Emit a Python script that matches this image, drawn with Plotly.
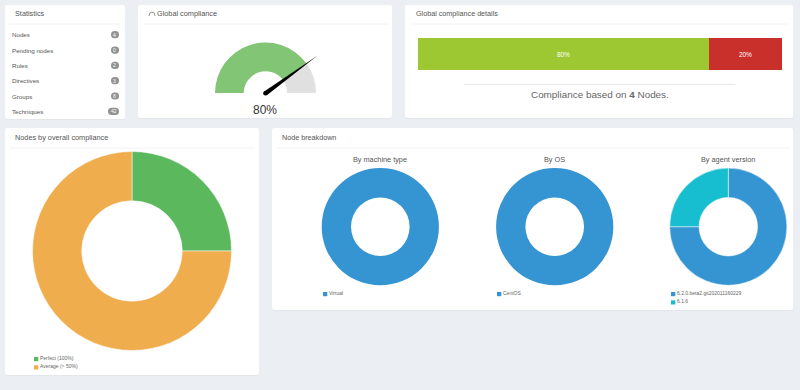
import math
import plotly.graph_objects as go

W, H = 800, 390
FONT = "Liberation Sans"

stat_labels = ["Nodes", "Pending nodes", "Rules", "Directives", "Groups", "Techniques"]
stat_values = ["4", "0", "2", "3", "8", "42"]
gauge_value = 80
detail_labels = ["80%", "20%"]
detail_values = [80, 20]
overall_labels = ["Perfect (100%)", "Average (> 50%)"]
overall_values = [1, 3]
machine_labels = ["Virtual"]
machine_values = [4]
os_labels = ["CentOS"]
os_values = [4]
agent_labels = ["6.2.0.beta2.git202011160229", "6.1.6"]
agent_values = [3, 1]

BG = "#ebeef3"
GREEN = "#5cb85c"
ORANGE = "#f0ad4e"
BLUE = "#3594d2"
CYAN = "#17becf"


def px(x):
    return x / W


def py(y):
    return 1 - y / H


fig = go.Figure()
shapes = []
ann = []


def text(x, y, s, size=7, color="#555555", anchor="left"):
    ann.append(dict(x=px(x), y=py(y), xref="paper", yref="paper", text=s, showarrow=False,
                    xanchor=anchor, yanchor="middle", borderpad=0, borderwidth=0,
                    font=dict(family=FONT, size=size, color=color)))


def rrect(x0, y0, x1, y1, r, fill):
    path = (f"M{px(x0 + r)},{py(y0)} L{px(x1 - r)},{py(y0)} Q{px(x1)},{py(y0)} {px(x1)},{py(y0 + r)} "
            f"L{px(x1)},{py(y1 - r)} Q{px(x1)},{py(y1)} {px(x1 - r)},{py(y1)} "
            f"L{px(x0 + r)},{py(y1)} Q{px(x0)},{py(y1)} {px(x0)},{py(y1 - r)} "
            f"L{px(x0)},{py(y0 + r)} Q{px(x0)},{py(y0)} {px(x0 + r)},{py(y0)} Z")
    shapes.append(dict(type="path", path=path, xref="paper", yref="paper", fillcolor=fill,
                       line=dict(width=0), layer="below"))


def hline(x0, x1, y, color="#f1f2f4"):
    shapes.append(dict(type="line", xref="paper", yref="paper", x0=px(x0), x1=px(x1), y0=py(y), y1=py(y),
                       line=dict(color=color, width=1), layer="below"))


panels = [(5, 5, 125, 119), (138, 5, 392, 118), (405, 5, 793, 118), (5, 128, 259, 375), (272, 128, 793, 310)]
for p in panels:
    rrect(p[0], p[1], p[2], p[3] + 1, 2, "#e3e6ea")
    rrect(*p, 2, "#ffffff")

hline(9, 121, 24)
hline(143, 388, 24)
hline(410, 790, 24)
hline(10, 255, 148)
hline(277, 790, 148)
hline(464, 735.5, 84.3, "#e6e8ea")

text(15, 14, "Statistics", 7.3)
text(157, 14, "Global compliance", 7.3)
text(416, 14, "Global compliance details", 7.2)
text(15, 137, "Nodes by overall compliance", 7.3)
text(282, 137, "Node breakdown", 7.2)

# statistics list
for i, (lab, val) in enumerate(zip(stat_labels, stat_values)):
    y = 34.7 + i * 15.33
    text(12, y, lab, 6.2)
    half = 4 if len(val) == 1 else 5.5
    cx = 115 if len(val) == 1 else 113.5
    rrect(cx - half, y - 3.6, cx + half, y + 3.6, 3.5, "#929292")
    text(cx, y, val, 5, "#ffffff", "center")

# gauge
gx, gy, gr = 265.5, 93, 50.5
fig.add_trace(go.Pie(values=[gauge_value, 100 - gauge_value, 100], hole=0.43, rotation=270, sort=False,
                     direction="clockwise", textinfo="none", hoverinfo="skip", showlegend=False,
                     marker=dict(colors=["#82c574", "#e0e0e0", "rgba(0,0,0,0)"], line=dict(width=0)),
                     domain=dict(x=[px(gx - gr), px(gx + gr)], y=[py(gy + gr), py(gy - gr)])))
ang = math.pi * (1 - gauge_value / 100)
ux, uy = math.cos(ang), -math.sin(ang)
nx, ny = -uy, ux
hx, hy = gx, gy + 0.3
tipx, tipy = hx + 64 * ux, hy + 64 * uy
b = [(hx + 2.3 * nx, hy + 2.3 * ny), (hx - 2.3 * nx, hy - 2.3 * ny)]
shapes.append(dict(type="path", xref="paper", yref="paper", fillcolor="#000000", line=dict(width=0),
                   path=f"M{px(b[0][0])},{py(b[0][1])} L{px(tipx)},{py(tipy)} L{px(b[1][0])},{py(b[1][1])} Z",
                   layer="above"))
shapes.append(dict(type="circle", xref="paper", yref="paper", fillcolor="#000000", line=dict(width=0),
                   x0=px(hx - 2.3), x1=px(hx + 2.3), y0=py(hy + 2.3), y1=py(hy - 2.3), layer="above"))
text(265, 110, f"{gauge_value}%", 12, "#333333", "center")

# gauge icon
shapes.append(dict(type="path", xref="paper", yref="paper", line=dict(color="#777777", width=0.8),
                   path=f"M{px(149)},{py(16)} Q{px(149)},{py(12)} {px(152)},{py(12)} Q{px(155)},{py(12)} {px(155)},{py(16)}"))

# compliance bar
fig.add_trace(go.Bar(x=[detail_values[0]], y=[""], orientation="h", marker=dict(color="#9dc832", line=dict(width=0)),
                     text=[detail_labels[0]], textposition="inside", insidetextanchor="middle",
                     textfont=dict(family=FONT, size=6.5, color="#ffffff"), showlegend=False, hoverinfo="skip"))
fig.add_trace(go.Bar(x=[detail_values[1]], y=[""], orientation="h", marker=dict(color="#c9302c", line=dict(width=0)),
                     text=[detail_labels[1]], textposition="inside", insidetextanchor="middle",
                     textfont=dict(family=FONT, size=6.5, color="#ffffff"), showlegend=False, hoverinfo="skip"))
text(600, 94, "Compliance based on <b>4</b> Nodes.", 9.9, "#666666", "center")


def donut(cx, cy, r, labels, values, colors, hole=0.5, sep=0):
    fig.add_trace(go.Pie(labels=labels, values=values, hole=hole, sort=False, direction="clockwise", rotation=0,
                         textinfo="none", hoverinfo="label+value", showlegend=False,
                         marker=dict(colors=colors, line=dict(width=sep, color="#ffffff")),
                         domain=dict(x=[px(cx - r), px(cx + r)], y=[py(cy + r), py(cy - r)])))


def legend(x, y, labels, colors):
    for i, (lab, col) in enumerate(zip(labels, colors)):
        yy = y + i * 8.3
        shapes.append(dict(type="rect", xref="paper", yref="paper", x0=px(x), x1=px(x + 4.3), y0=py(yy - 1),
                           y1=py(yy + 3.2), fillcolor=col, line=dict(width=0)))
        text(x + 6, yy, lab, 5, "#666666")


donut(132, 251, 99.5, overall_labels, overall_values, [GREEN, ORANGE], 0.505, 0.5)
legend(34, 358, overall_labels, [GREEN, ORANGE])

donut(380.3, 226.7, 58.6, machine_labels, machine_values, [BLUE])
donut(554.7, 226.7, 58.6, os_labels, os_values, [BLUE])
donut(728.3, 226.7, 58.6, agent_labels, agent_values, [BLUE, CYAN], 0.5, 0.5)
text(380.3, 159, "By machine type", 7.3, "#555555", "center")
text(554.5, 159, "By OS", 7.3, "#555555", "center")
text(728.3, 159, "By agent version", 7.3, "#555555", "center")
legend(323, 293, machine_labels, [BLUE])
legend(497, 293, os_labels, [BLUE])
legend(671, 293, agent_labels, [BLUE, CYAN])

fig.update_layout(
    width=W, height=H, margin=dict(l=0, r=0, t=0, b=0), paper_bgcolor=BG, plot_bgcolor="rgba(0,0,0,0)",
    barmode="stack", shapes=shapes, annotations=ann, bargap=0,
    xaxis=dict(domain=[px(418), px(782)], range=[0, 100], visible=False, fixedrange=True),
    yaxis=dict(domain=[py(70), py(38)], visible=False, fixedrange=True),
)
fig.write_html("out.html", post_script="document.body.style.margin='0';", config=dict(displayModeBar=False))
